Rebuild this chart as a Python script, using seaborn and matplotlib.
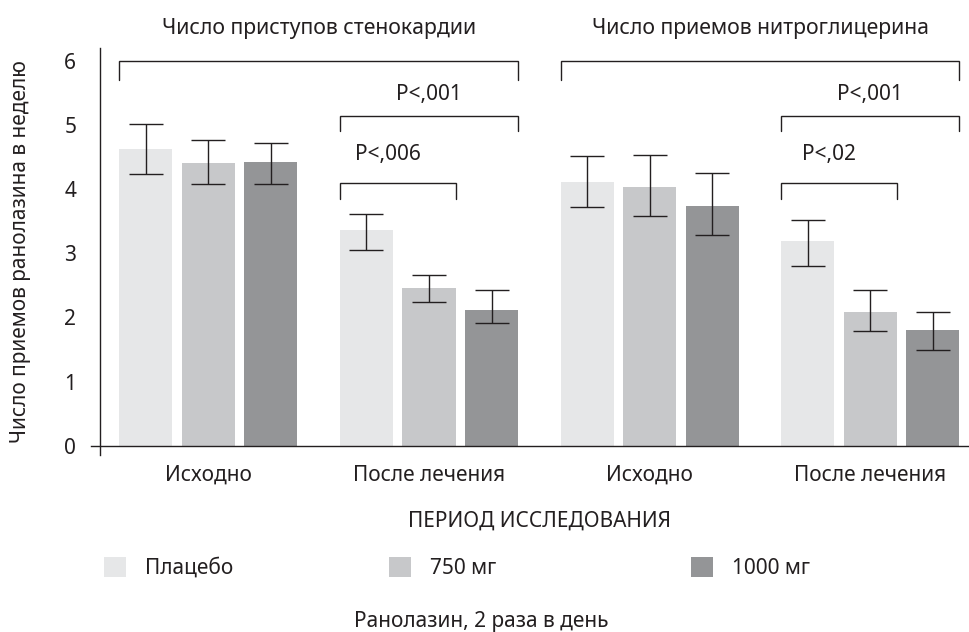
import matplotlib as mpl
import matplotlib.pyplot as plt
import pandas as pd
import seaborn as sns

mpl.use("Agg")

# ---- data ----
periods = ["angina_base", "angina_treat", "nitro_base", "nitro_treat"]
period_labels = ["Исходно", "После лечения", "Исходно", "После лечения"]
doses = ["Плацебо", "750 мг", "1000 мг"]

placebo = [4.64, 3.37, 4.12, 3.20]
mg750 = [4.41, 2.46, 4.04, 2.09]
mg1000 = [4.43, 2.12, 3.74, 1.80]

placebo_lo = [4.24, 3.06, 3.73, 2.81]
placebo_hi = [5.03, 3.62, 4.52, 3.53]
mg750_lo = [4.09, 2.24, 3.59, 1.79]
mg750_hi = [4.77, 2.67, 4.54, 2.43]
mg1000_lo = [4.09, 1.92, 3.29, 1.50]
mg1000_hi = [4.73, 2.43, 4.25, 2.08]

panel_titles = ["Число приступов стенокардии", "Число приемов нитроглицерина"]
p_wide = ["P<,001", "P<,001"]
p_narrow = ["P<,006", "P<,02"]

colors = ["#e6e7e8", "#c7c8ca", "#939598"]
ink = "#231f20"

sns.set_style("white")
plt.rcParams["font.family"] = ["Noto Sans", "DejaVu Sans"]
plt.rcParams["font.size"] = 15
plt.rcParams["text.color"] = ink
plt.rcParams["axes.labelcolor"] = ink
plt.rcParams["xtick.color"] = ink
plt.rcParams["ytick.color"] = ink

rows = []
for d, vals, lo, hi in zip(doses, [placebo, mg750, mg1000],
                           [placebo_lo, mg750_lo, mg1000_lo],
                           [placebo_hi, mg750_hi, mg1000_hi]):
    for p, v, l, h in zip(periods, vals, lo, hi):
        rows.append([p, d, v, l, h])
df = pd.DataFrame(rows, columns=["period", "dose", "value", "lo", "hi"])

W, H = 969, 632
fig = plt.figure(figsize=(W / 100, H / 100), dpi=100)
ax = fig.add_axes([90.7 / W, 1 - 455 / H, (W - 90.7) / W, (455 - 48) / H])

sns.barplot(
    data=df, x="period", y="value", hue="dose", order=periods, hue_order=doses,
    palette=colors, width=0.85, gap=0.15, errorbar=None, linewidth=0, ax=ax,
)

leg = ax.get_legend()
handles = list(leg.legend_handles)
labels = [t.get_text() for t in leg.texts]
leg.remove()

# error bars (capsize is half the cap width)
for k, dose in enumerate(doses):
    sub = df[df["dose"] == dose]
    bars = ax.containers[k]
    xs = [b.get_x() + b.get_width() / 2 for b in bars]
    yerr = [sub["value"] - sub["lo"], sub["hi"] - sub["value"]]
    ax.errorbar(xs, sub["value"], yerr=yerr, fmt="none", ecolor=ink,
                elinewidth=1.0, capsize=11.9, capthick=1.0)


def left(k, g):
    return ax.containers[k][g].get_x()


def right(k, g):
    b = ax.containers[k][g]
    return b.get_x() + b.get_width()


def bracket(x0, x1, y, leg_y):
    ax.plot([x0, x0, x1, x1], [leg_y, y, y, leg_y], color=ink, lw=1.0,
            clip_on=False, solid_joinstyle="miter")


for i in range(2):
    g0, g1 = 2 * i, 2 * i + 1
    x0, x1 = left(0, g0), right(2, g1)
    bracket(x0, x1, 6.0, 5.71)
    ax.text((x0 + x1) / 2, 6.52, panel_titles[i], ha="center", va="center",
            fontsize=15.3, clip_on=False)
    x0, x1 = left(0, g1), right(2, g1)
    bracket(x0, x1, 5.15, 4.92)
    ax.text((x0 + x1) / 2, 5.49, p_wide[i], ha="center", va="center", fontsize=15)
    x0, x1 = left(0, g1), right(1, g1)
    bracket(x0, x1, 4.10, 3.85)
    ax.text((x0 + x1) / 2 - 0.045, 4.55, p_narrow[i], ha="center", va="center",
            fontsize=15)

ax.set_xlim(-0.533, 3.447)
ax.set_ylim(-0.148, 6.21)
ax.set_yticks(range(7))
ax.set_xticks(range(4))
ax.set_xticklabels(period_labels)
ax.tick_params(axis="both", length=0, labelsize=15)
ax.tick_params(axis="y", pad=17)
ax.tick_params(axis="x", pad=14)

sns.despine(ax=ax, top=True, right=True)
ax.spines["left"].set_position(("data", -0.491))
ax.spines["bottom"].set_position(("data", 0))
for s in ["left", "bottom"]:
    ax.spines[s].set_color(ink)
    ax.spines[s].set_linewidth(1.0)

ax.set_xlabel("")
ax.set_ylabel("Число приемов ранолазина в неделю", fontsize=15, labelpad=24)

fig.text(540 / W, 1 - 521 / H, "ПЕРИОД ИССЛЕДОВАНИЯ", ha="center", va="center",
         fontsize=15)
fig.text(481 / W, 1 - 621 / H, "Ранолазин, 2 раза в день", ha="center",
         va="center", fontsize=15)

# legend: one entry per column position, like the reference
legend_x = [104, 389, 691]
for hnd, lab, lx in zip(handles, labels, legend_x):
    fig.legend([hnd], [lab], loc="center left",
               bbox_to_anchor=(lx / W, 1 - 568 / H), frameon=False,
               borderpad=0, borderaxespad=0, handlelength=1.06,
               handleheight=1.06, handletextpad=0.9, fontsize=15)

fig.savefig("out.png", dpi=100)
